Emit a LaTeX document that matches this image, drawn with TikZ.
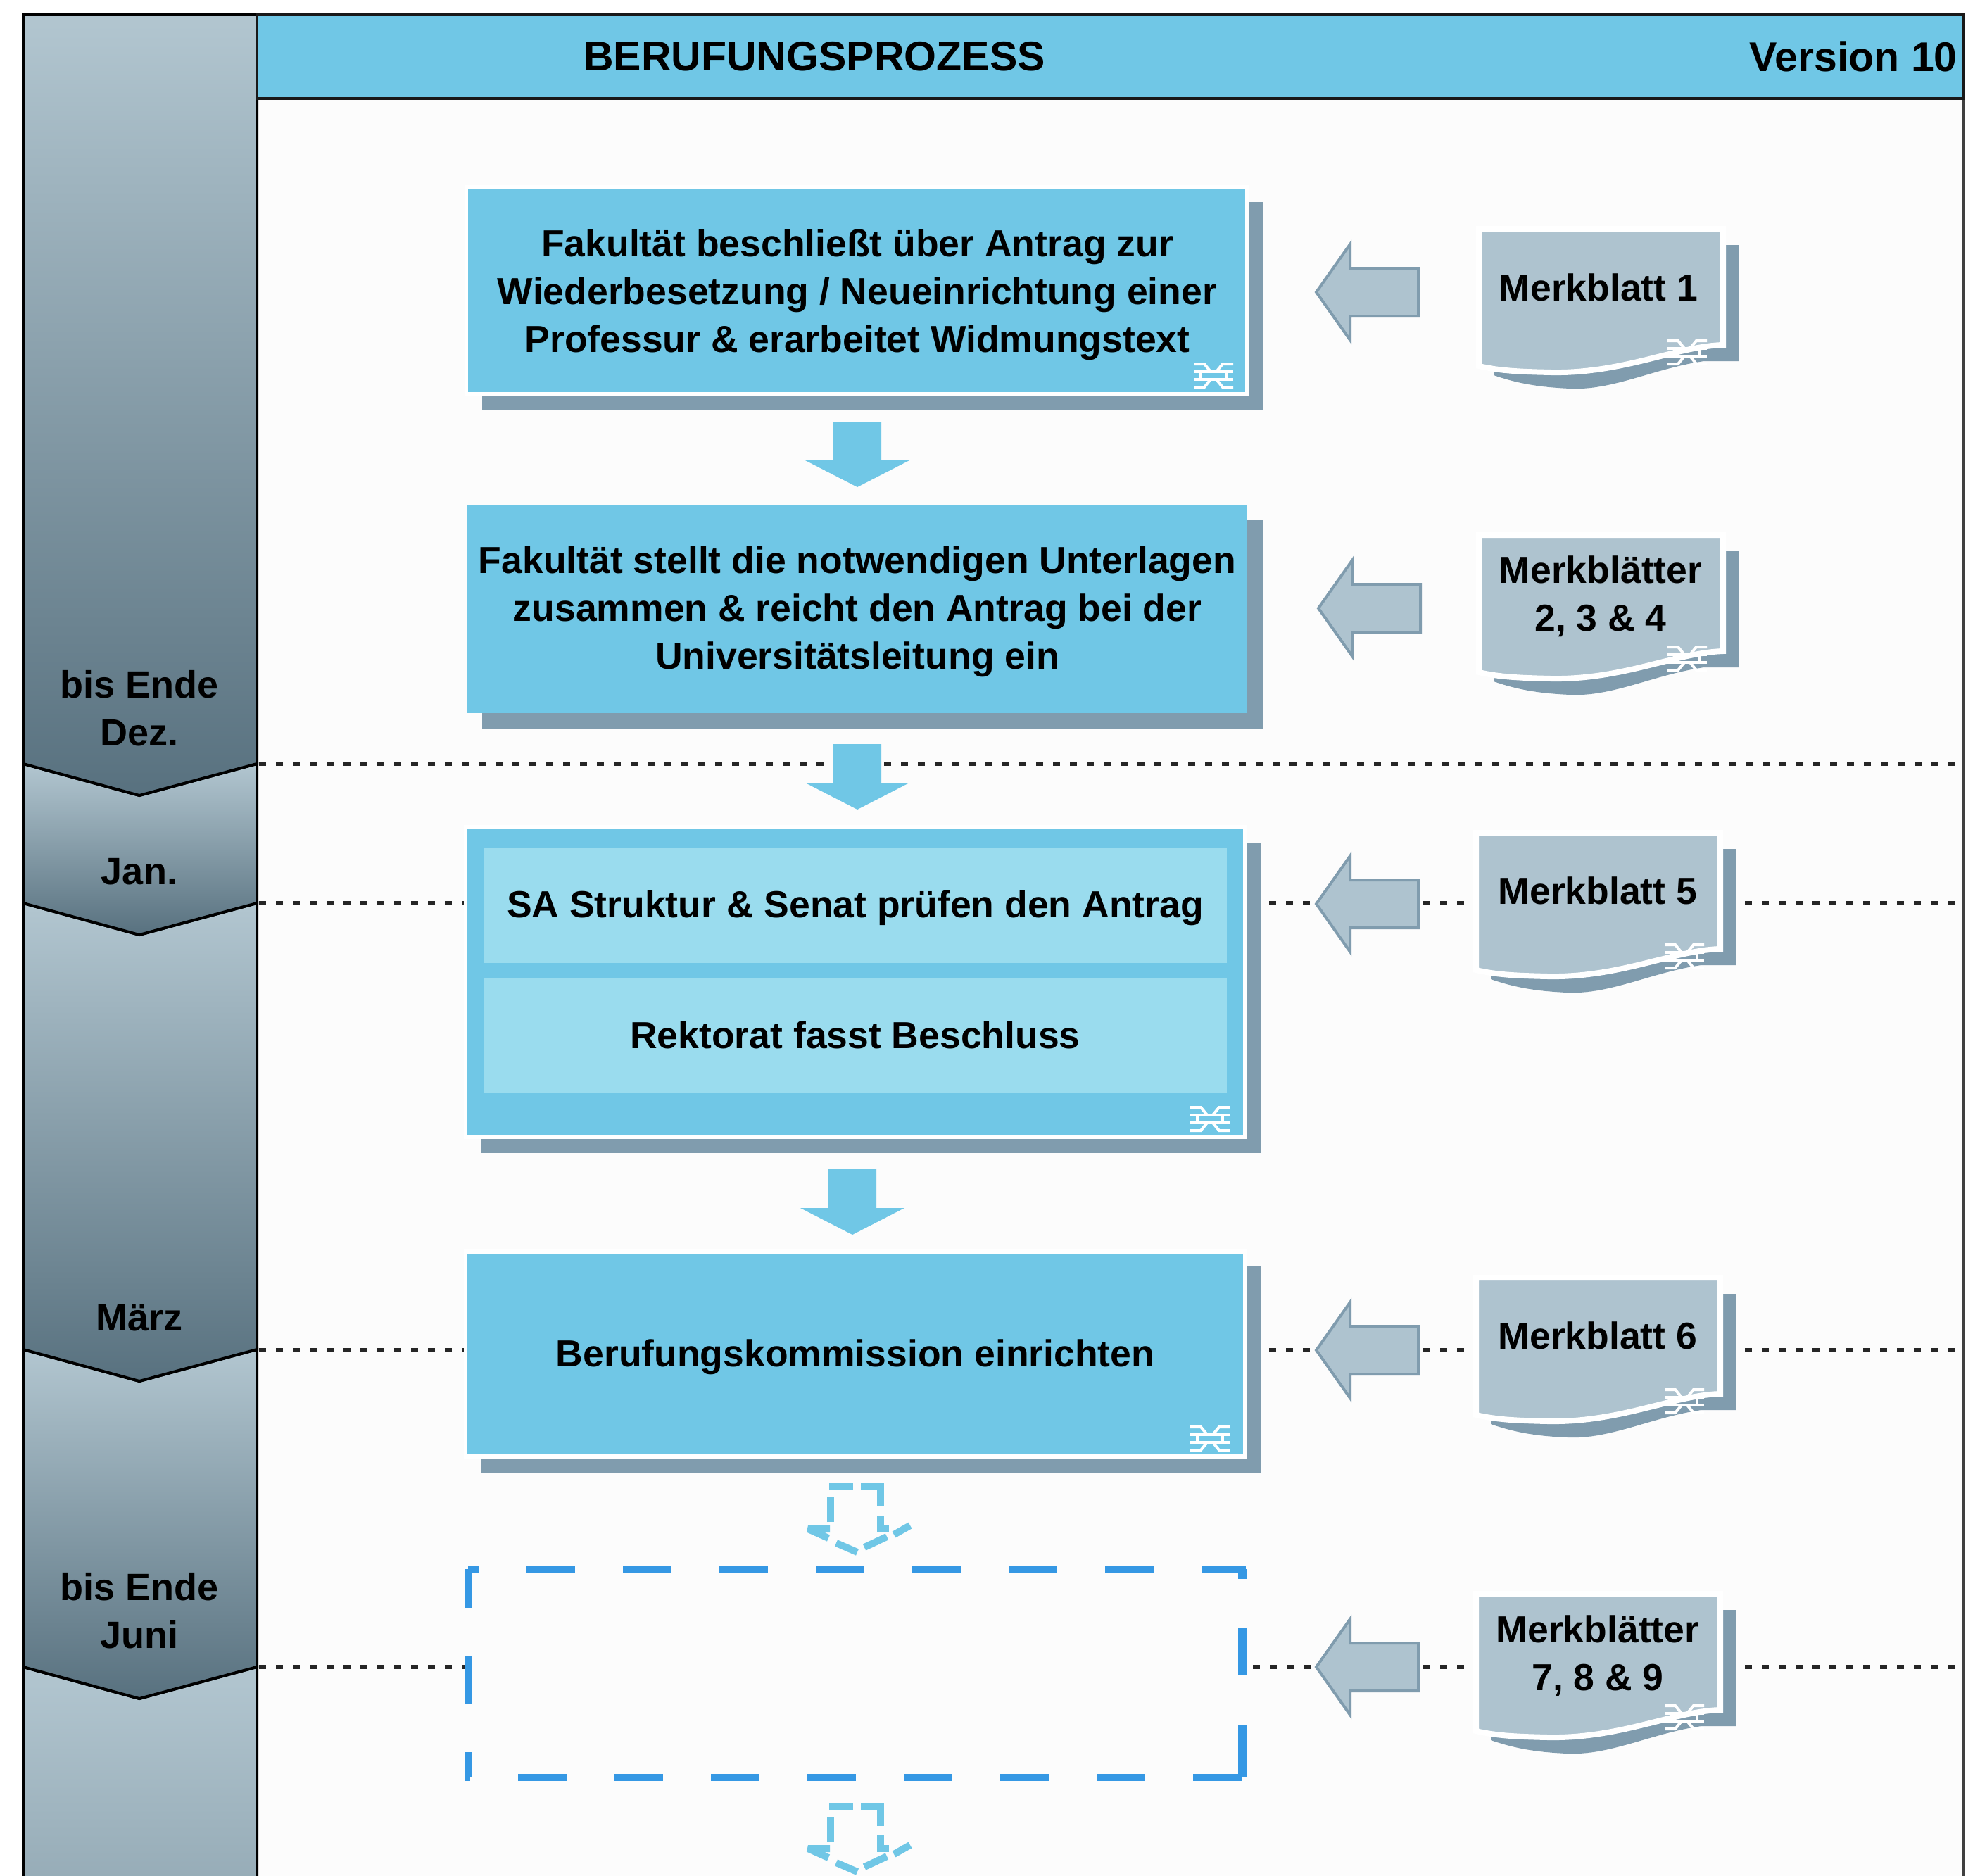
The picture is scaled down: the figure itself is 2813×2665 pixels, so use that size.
\documentclass[tikz,border=0pt]{standalone}
\usepackage{fontspec}
\setmainfont{Liberation Sans}
\definecolor{cblue}{HTML}{70C7E6}
\definecolor{clight}{HTML}{9ADCEE}
\definecolor{cshadow}{HTML}{809CAE}
\definecolor{cdoc}{HTML}{AEC3CF}
\definecolor{cdash}{HTML}{3598E4}
\definecolor{cpage}{HTML}{FCFCFC}
\definecolor{cbandtop}{HTML}{B2C6D0}
\definecolor{cbandbot}{HTML}{58717F}
\tikzset{
  x=1pt,y=-1pt,
  boxtext/.style={font=\fontsize{53.5}{68}\selectfont\bfseries,text=black,align=center,inner sep=0pt},
  titletext/.style={font=\fontsize{59}{68}\selectfont\bfseries,text=black,align=center,inner sep=0pt},
  bandtext/.style={font=\fontsize{54}{68}\selectfont\bfseries,text=black,align=center,inner sep=0pt},
  solidarrow/.style={fill=cblue,draw=none},
  dasharrow/.style={draw=cblue,line width=10pt,line join=miter},
  sidearrow/.style={fill=cdoc,draw=cshadow,line width=4pt,line join=miter},
  dotline/.style={draw=black!85,line width=6pt,dash pattern=on 10pt off 14pt},
  band/.style={draw=black,line width=4pt},
  dashbox/.style={draw=cdash,line width=10pt},
  icon/.style={draw=white,line width=4pt},
}
\newcommand{\boxshadow}[4]{% x1 y1 x2 y2 of the shadow
  \fill[cshadow] (#1,#2) rectangle (#3,#4);
}
\newcommand{\framedbox}[4]{% x1 y1 x2 y2 of the blue face
  \fill[white] (#1-5,#2-6) rectangle (#3+5,#4+6);
  \fill[cblue] (#1,#2) rectangle (#3,#4);
}
\newcommand{\linkicon}[2]{% centre
  \begin{scope}[shift={(#1,#2)}]
    \draw[icon] (-28,-16) -- (-13,-16) -- (-4,-5) (28,-16) -- (13,-16) -- (4,-5);
    \draw[icon] (-28,-5) -- (28,-5) (-28,6) -- (28,6);
    \draw[icon] (-18,-5) -- (-18,6) (18,-5) -- (18,6);
    \draw[icon] (-28,17) -- (-13,17) -- (-4,6) (28,17) -- (13,17) -- (4,6);
  \end{scope}
}
\newcommand{\downarrowshape}[2]{% cx top
  \fill[solidarrow] (#1-34,#2) -- (#1+34,#2) -- (#1+34,#2+55) -- (#1+74,#2+55) -- (#1,#2+93) -- (#1-74,#2+55) -- (#1-34,#2+55) -- cycle;
}
\newcommand{\dashdown}[2]{% cx top
  \begin{scope}[shift={(#1,#2)}]
    \draw[dasharrow] (-40,0) -- (-6,0);
    \draw[dasharrow] (5,0) -- (33,0) -- (33,28);
    \draw[dasharrow] (33,41) -- (33,60) -- (45,60);
    \draw[dasharrow] (52,68) -- (75,55);
    \draw[dasharrow] (42,71) -- (10,86);
    \draw[dasharrow] (0,93) -- (-30,80);
    \draw[dasharrow,line join=bevel] (-41,73) -- (-70,60) -- (-39,60);
    \draw[dasharrow] (-38,50) -- (-38,15);
  \end{scope}
}
\newcommand{\sidearrowshape}[3]{% tipx cy rightx
  \draw[sidearrow] (#1,#2) -- (#1+48,#2-68) -- (#1+48,#2-34) -- (#3,#2-34) -- (#3,#2+34) -- (#1+48,#2+34) -- (#1+48,#2+68) -- cycle;
}
\newcommand{\docshape}[2]{% left top
  \begin{scope}[shift={(#1,#2)}]
    \fill[cshadow] (21,23) -- (369,23) -- (369,188) -- (320,188) .. controls (250,198) and (190,230) .. (130,227) .. controls (80,225) and (50,218) .. (21,208) -- cycle;
    \draw[white,line width=8pt,fill=cdoc] (0,0) -- (347,0) -- (347,165) .. controls (280,167) and (205,206) .. (102,204) .. controls (60,203) and (30,202) .. (0,195) -- cycle;
    \linkicon{296}{175}
  \end{scope}
}
\newcommand{\dotseg}[3]{% x1 x2 y
  \coordinate (dota) at (#1,#3); \coordinate (dotb) at (#2,#3);
  \draw[dotline] (dota) -- (dotb);
}
\begin{document}
\begin{tikzpicture}
\useasboundingbox (0,0) rectangle (2813,2665);
\fill[white] (0,0) rectangle (2813,2665);
% page
\fill[cpage] (365,22) rectangle (2790,2665);
\draw[black!75,line width=4pt] (2790,21) -- (2790,2665);
% band segments, last first so upper chevrons lie on top
\shade[top color=cbandtop,bottom color=cbandtop!70!cbandbot,band] (33,2368) -- (198,2413) -- (365,2368) -- (365,2667) -- (33,2667) -- cycle;
\shade[top color=cbandtop,bottom color=cbandbot,band] (33,1917) -- (198,1962) -- (365,1917) -- (365,2368) -- (198,2413) -- (33,2368) -- cycle;
\shade[top color=cbandtop,bottom color=cbandbot,band] (33,1283) -- (198,1328) -- (365,1283) -- (365,1917) -- (198,1962) -- (33,1917) -- cycle;
\shade[top color=cbandtop,bottom color=cbandbot,band] (33,1085) -- (198,1130) -- (365,1085) -- (365,1283) -- (198,1328) -- (33,1283) -- cycle;
\shade[top color=cbandtop,bottom color=cbandbot,band] (33,21) -- (365,21) -- (365,1085) -- (198,1130) -- (33,1085) -- cycle;
% header
\draw[fill=cblue,draw=black!90,line width=4.5pt] (365,21) rectangle (2790,140);
\node[titletext] (title) at (1157,80) {BERUFUNGSPROZESS};
\node[titletext,anchor=east] (version) at (2781,80) {Version 10};
% dotted lines
\dotseg{368}{2785}{1085}
\foreach \yy in {1283,1918}{
  \dotseg{368}{660}{\yy}
  \dotseg{1803}{1870}{\yy}
  \dotseg{2022}{2085}{\yy}
  \dotseg{2479}{2785}{\yy}
}
\dotseg{368}{660}{2368}
\dotseg{1780}{1870}{2368}
\dotseg{2022}{2085}{2368}
\dotseg{2479}{2785}{2368}
% band labels
\node[bandtext] (b1) at (198,1006) {bis Ende\\Dez.};
\node[bandtext] (b2) at (198,1238) {Jan.};
\node[bandtext] (b3) at (198,1872) {März};
\node[bandtext] (b4) at (198,2288) {bis Ende\\Juni};
% box 1
\boxshadow{685}{287}{1795}{582}
\framedbox{665}{269}{1769}{557}
\node[boxtext] (n1) at (1218,419) {Fakultät beschließt über Antrag zur\\Wiederbesetzung / Neueinrichtung einer\\Professur \& erarbeitet Widmungstext};
\linkicon{1724}{533}
% box 2
\boxshadow{685}{738}{1795}{1035}
\fill[cblue] (664,718) rectangle (1772,1013);
\node[boxtext] (n2) at (1218,869) {Fakultät stellt die notwendigen Unterlagen\\zusammen \& reicht den Antrag bei der\\Universitätsleitung ein};
% box 3
\boxshadow{683}{1197}{1791}{1638}
\framedbox{664}{1178}{1766}{1612}
\fill[clight] (687,1205) rectangle (1743,1368);
\fill[clight] (687,1390) rectangle (1743,1552);
\node[boxtext] (n3a) at (1215,1290) {SA Struktur \& Senat prüfen den Antrag};
\node[boxtext] (n3b) at (1215,1470) {Rektorat fasst Beschluss};
\linkicon{1719}{1589}
% box 4
\boxshadow{683}{1798}{1791}{2092}
\framedbox{664}{1781}{1766}{2066}
\node[boxtext] (n4) at (1215,1928) {Berufungskommission einrichten};
\linkicon{1719}{2043}
% dashed box
\draw[dashbox,dash pattern=on 69pt off 68pt,dash phase=54pt] (665,2229) -- (1770,2229);
\draw[dashbox,dash pattern=on 69pt off 68pt,dash phase=14pt] (665,2229) -- (665,2525);
\draw[dashbox,dash pattern=on 69pt off 68pt,dash phase=61pt] (660,2525) -- (1774,2525);
\draw[dashbox,line width=12pt,dash pattern=on 14pt off 69pt on 68pt off 70pt on 80pt] (1764.5,2229) -- (1764.5,2525);
% down arrows
\downarrowshape{1218}{599}
\downarrowshape{1218}{1057}
\downarrowshape{1211}{1661}
\dashdown{1218}{2112}
\dashdown{1218}{2566}
% side arrows
\sidearrowshape{1870}{415}{2015}
\sidearrowshape{1873}{864}{2018}
\sidearrowshape{1870}{1284}{2015}
\sidearrowshape{1870}{1918}{2015}
\sidearrowshape{1870}{2368}{2015}
% documents
\docshape{2101}{325}
\docshape{2101}{760}
\docshape{2097}{1183}
\docshape{2097}{1815}
\docshape{2097}{2264}
\node[boxtext] (m1) at (2271,408) {Merkblatt 1};
\node[boxtext] (m2) at (2274,847) {Merkblätter\\2, 3 \& 4};
\node[boxtext] (m3) at (2270,1265) {Merkblatt 5};
\node[boxtext] (m4) at (2270,1897) {Merkblatt 6};
\node[boxtext] (m5) at (2270,2352) {Merkblätter\\7, 8 \& 9};
\end{tikzpicture}
\end{document}
